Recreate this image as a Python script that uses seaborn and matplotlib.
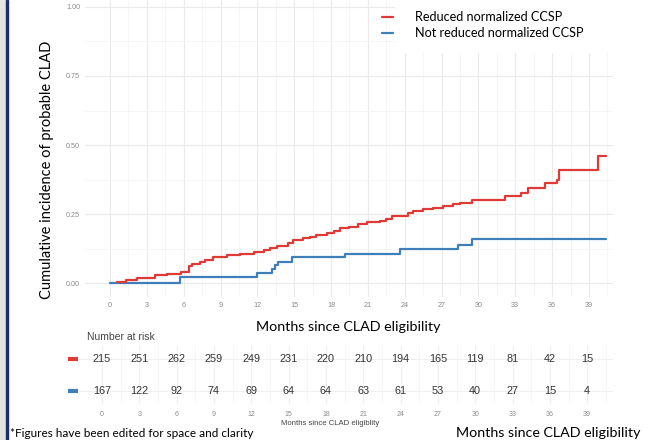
import numpy as np
import pandas as pd
import matplotlib
matplotlib.use("Agg")
import matplotlib.pyplot as plt
from matplotlib.patches import Rectangle
from matplotlib.lines import Line2D
import seaborn as sns

# ---- data ----
red_months = [0.6, 1.3, 2.2, 3.7, 4.6, 5.8, 6.4, 6.7, 7.3, 7.7, 8.4, 9.5, 10.6, 11.7, 12.5, 13.0,
              13.6, 14.5, 14.9, 15.7, 16.3, 16.8, 17.7, 18.2, 18.7, 19.5, 20.2, 20.9, 22.0, 22.5,
              23.0, 24.3, 24.7, 25.5, 26.3, 27.1, 27.9, 28.5, 29.5, 32.2, 33.5, 34.0, 35.4, 36.4,
              36.6, 39.7, 40.4]
red_cuminc = [0.003, 0.011, 0.020, 0.029, 0.035, 0.041, 0.062, 0.071, 0.075, 0.083, 0.093, 0.101,
              0.105, 0.113, 0.120, 0.128, 0.135, 0.144, 0.156, 0.162, 0.168, 0.174, 0.180, 0.190,
              0.198, 0.204, 0.214, 0.220, 0.226, 0.232, 0.243, 0.253, 0.261, 0.267, 0.273, 0.279,
              0.285, 0.292, 0.300, 0.315, 0.325, 0.343, 0.361, 0.373, 0.409, 0.460, 0.460]
blue_months = [0.0, 5.7, 12.0, 13.2, 13.4, 13.7, 14.8, 19.1, 23.6, 28.3, 29.5, 40.4]
blue_cuminc = [0.0, 0.022, 0.037, 0.053, 0.065, 0.077, 0.095, 0.107, 0.123, 0.140, 0.160, 0.160]

groups = ["Reduced normalized CCSP", "Not reduced normalized CCSP"]
risk_times = [0, 3, 6, 9, 12, 15, 18, 21, 24, 27, 30, 33, 36, 39]
risk_red = [215, 251, 262, 259, 249, 231, 220, 210, 194, 165, 119, 81, 42, 15]
risk_blue = [167, 122, 92, 74, 69, 64, 64, 63, 61, 53, 40, 27, 15, 4]
y_ticks = [0.00, 0.25, 0.50, 0.75, 1.00]

RED = "#E03A37"
BLUE = "#3F7FB9"
palette = {groups[0]: RED, groups[1]: BLUE}

df = pd.concat([
    pd.DataFrame({"month": red_months, "cuminc": red_cuminc, "group": groups[0]}),
    pd.DataFrame({"month": blue_months, "cuminc": blue_cuminc, "group": groups[1]}),
])

sns.set_style("white")
plt.rcParams["font.family"] = ["Lato", "DejaVu Sans"]

W, H = 649, 440
fig = plt.figure(figsize=(W / 100, H / 100), dpi=100)


def px_axes(l, t, r, b):
    return fig.add_axes([l / W, 1 - b / H, (r - l) / W, (b - t) / H])


def fx(x):
    return x / W


def fy(y):
    return 1 - y / H


# left slide border
fig.patches.append(Rectangle((0, 0), fx(5.5), 1, transform=fig.transFigure, color="#E4E4E4", zorder=0))
fig.patches.append(Rectangle((fx(5.5), 0), fx(2.5), 1, transform=fig.transFigure, color="#1C2F6B", zorder=0))

# ---- main plot ----
ax = px_axes(85, 0, 613, 297)
sns.lineplot(data=df, x="month", y="cuminc", hue="group", palette=palette,
             hue_order=[groups[1], groups[0]],
             drawstyle="steps-post", estimator=None, lw=1.6, legend=False, ax=ax)
ax.set_xlim(-2.04, 40.96)
ax.set_ylim(-0.05, 1.025)
ax.set_xticks(risk_times)
ax.set_xticks(np.arange(1.5, 41, 3), minor=True)
ax.set_yticks(y_ticks)
ax.set_yticklabels([f"{v:.2f}" for v in y_ticks])
ax.set_yticks([0.125, 0.375, 0.625, 0.875], minor=True)
ax.grid(which="major", color="#EAEAEA", lw=0.8)
ax.grid(which="minor", color="#F4F4F4", lw=0.6)
ax.set_axisbelow(True)
for s in ax.spines.values():
    s.set_visible(False)
ax.tick_params(which="major", labelsize=5.2, labelcolor="#8A8A8A", length=2, width=0.5,
               color="#9A9A9A", pad=1.5)
ax.tick_params(which="minor", length=0)
for lab in ax.get_xticklabels() + ax.get_yticklabels():
    lab.set_family(["Liberation Sans", "DejaVu Sans"])
ax.set_xlabel("")
ax.set_ylabel("")

# white legend box
ax.add_patch(Rectangle((fx(395), fy(53)), fx(613 - 395), fy(0) - fy(53),
                       transform=fig.transFigure, facecolor="white", edgecolor="none", zorder=1))
for yy, g in [(17, groups[0]), (33, groups[1])]:
    fig.add_artist(Line2D([fx(382), fx(393)], [fy(yy), fy(yy)], color=palette[g], lw=1.6))
    fig.text(fx(415), fy(yy), g, fontsize=9.1, va="center", ha="left", color="black")

# axis titles (slide text)
fig.text(fx(47), fy(170), "Cumulative incidence of probable CLAD", rotation=90,
         fontsize=10.5, ha="center", va="center", color="black")
fig.text(fx(348), fy(327), "Months since CLAD eligibility", fontsize=10.3,
         ha="center", va="center", color="black")

# ---- risk table ----
tx = px_axes(78, 345, 613, 404)
tx.set_xlim(-(102 - 78) / 12.44, (613 - 102) / 12.44)
tx.set_ylim(-0.40, 1.4375)
tx.set_xticks(risk_times)
tx.set_xticks(np.arange(1.5, 41, 3), minor=True)
tx.set_yticks([0, 1])
tx.set_yticklabels(["", ""])
tx.grid(which="major", color="#EFEFEF", lw=0.8)
tx.grid(which="minor", color="#F6F6F6", lw=0.6)
tx.set_axisbelow(True)
for s in tx.spines.values():
    s.set_visible(False)
tx.tick_params(axis="x", which="major", labelsize=5, labelcolor="#8A8A8A", length=0, pad=5)
tx.tick_params(axis="y", length=0)
tx.tick_params(which="minor", length=0)
for lab in tx.get_xticklabels():
    lab.set_family(["Liberation Sans", "DejaVu Sans"])

for row, vals, col in [(1, risk_red, RED), (0, risk_blue, BLUE)]:
    for t, v in zip(risk_times, vals):
        tx.text(t, row, str(v), ha="center", va="center", fontsize=7.8, color="#333333",
                family=["Liberation Sans", "DejaVu Sans"])
    tx.plot([(68 - 102) / 12.44, (78 - 102) / 12.44], [row, row], color=col, lw=3, clip_on=False,
            solid_capstyle="butt")

fig.text(fx(87), fy(337), "Number at risk", fontsize=7.5, color="#444444", ha="left", va="center",
         family=["Liberation Sans", "DejaVu Sans"])
fig.text(fx(330), fy(423), "Months since CLAD eligiblity", fontsize=5.6, color="#444444",
         ha="center", va="center", family=["Liberation Sans", "DejaVu Sans"])

# footer slide text
fig.text(fx(10), fy(433), "*Figures have been edited for space and clarity", fontsize=8.5,
         ha="left", va="center", color="black")
fig.text(fx(640), fy(433), "Months since CLAD eligibility", fontsize=10.3,
         ha="right", va="center", color="black")

fig.savefig("out.png", dpi=100, facecolor="white")
